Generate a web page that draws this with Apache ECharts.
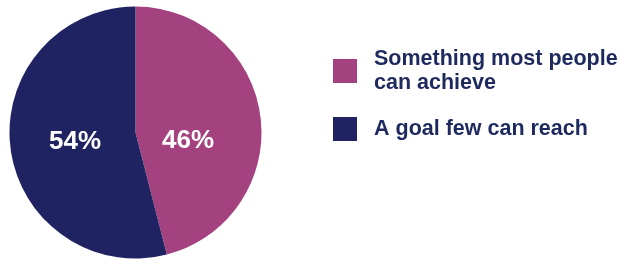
<!DOCTYPE html>
<html>
<head>
<meta charset="utf-8">
<script src="https://cdn.jsdelivr.net/npm/echarts@6/dist/echarts.min.js"></script>
<style>
  html, body { margin: 0; padding: 0; background: #fff; }
  #chart { width: 620px; height: 259px; }
</style>
</head>
<body>
<div id="chart"></div>
<script>
// data
const categories = ['Something most people\ncan achieve', 'A goal few can reach'];
const shares = [46, 54];
const colors = ['#a3427f', '#1f2361'];
// label nudges so the numbers sit like in the print
const labelOffsets = [[-13, 17], [5, 1]];

const chart = echarts.init(document.getElementById('chart'));

chart.setOption({
  backgroundColor: '#ffffff',
  animation: false,
  legend: {
    orient: 'vertical',
    left: 328,
    top: 42,
    itemWidth: 24,
    itemHeight: 24,
    itemGap: 22,
    icon: 'rect',
    selectedMode: false,
    textStyle: {
      fontFamily: 'Liberation Sans, Arial, sans-serif',
      fontWeight: 'bold',
      fontSize: 21.5,
      lineHeight: 24,
      color: '#1e2a5e',
      padding: [0, 0, 0, 12]
    },
    data: categories
  },
  series: [
    {
      type: 'pie',
      center: [135.5, 132.5],
      radius: 126,
      startAngle: 90,
      clockwise: true,
      silent: true,
      label: {
        position: 'inside',
        formatter: '{c}%',
        color: '#ffffff',
        fontFamily: 'Liberation Sans, Arial, sans-serif',
        fontWeight: 'bold',
        fontSize: 26
      },
      labelLine: { show: false },
      itemStyle: { borderWidth: 0 },
      data: categories.map((name, i) => ({
        name: name,
        value: shares[i],
        itemStyle: { color: colors[i] },
        label: { offset: labelOffsets[i] }
      }))
    }
  ]
});
</script>
</body>
</html>
